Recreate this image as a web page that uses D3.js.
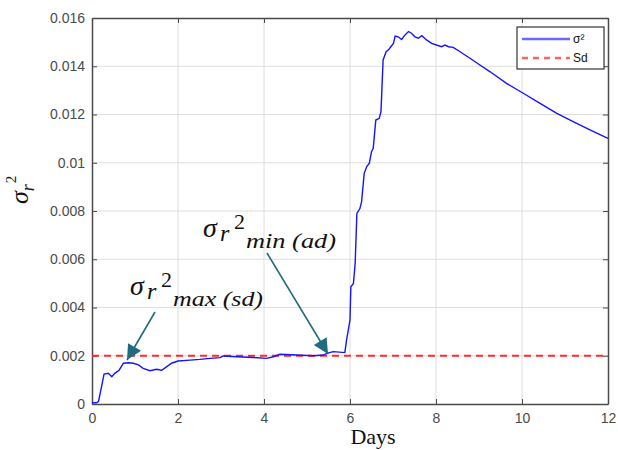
<!DOCTYPE html>
<html>
<head>
<meta charset="utf-8">
<script src="https://cdn.jsdelivr.net/npm/d3@7"></script>
<style>
  html, body { margin: 0; padding: 0; background: #fff; }
  svg { display: block; }
  .tick text { font-family: "Liberation Sans", Arial, sans-serif; }
</style>
</head>
<body>
<svg id="chart" width="618" height="450"></svg>
<script>
// Variance of the residual (sigma_r^2) over time, in days
const days = [0, 0.1, 0.15, 0.22, 0.28, 0.38, 0.46, 0.53, 0.63, 0.73, 0.85, 0.96, 1.08, 1.19, 1.35, 1.5, 1.62, 1.74, 1.85, 2.0,
  2.28, 2.51, 2.74, 2.98, 3.05, 3.37, 3.75, 4.06, 4.22, 4.37, 4.76, 5.15, 5.38, 5.46, 5.61, 5.88,
  5.92, 6.0, 6.02, 6.08, 6.12, 6.16, 6.23, 6.27, 6.33, 6.39, 6.45, 6.5, 6.54, 6.6, 6.68, 6.72, 6.77,
  6.84, 6.89, 6.95, 7.01, 7.05, 7.12, 7.2, 7.28, 7.36, 7.43, 7.51, 7.59, 7.67, 7.78, 7.9, 8.01,
  8.13, 8.21, 8.29, 8.4, 8.56, 8.79, 9.02, 9.26, 9.64, 10.03, 10.42, 10.81, 11.19, 11.58, 12.0];
const sigma2 = [0.00005, 0.00005, 0.0001, 0.0007, 0.00124, 0.00127, 0.00113, 0.00127, 0.0014, 0.00169, 0.00171, 0.00169, 0.00162, 0.00148, 0.00138, 0.00144, 0.0014, 0.00155, 0.00169, 0.00178,
  0.00182, 0.00185, 0.00189, 0.00192, 0.00199, 0.00196, 0.00193, 0.00189, 0.00196, 0.00206, 0.00203, 0.002, 0.00203, 0.0021, 0.00217, 0.00213,
  0.00265, 0.00348, 0.00486, 0.005, 0.00583, 0.0079, 0.0081, 0.00839, 0.00956, 0.00984, 0.00998, 0.01046, 0.0106, 0.01177, 0.01184, 0.01212, 0.01426,
  0.0146, 0.01467, 0.01481, 0.01495, 0.01525, 0.01522, 0.01511, 0.0153, 0.01544, 0.01537, 0.01522, 0.01516, 0.01527, 0.01509, 0.01495, 0.01488,
  0.01481, 0.01488, 0.01481, 0.01478, 0.0146, 0.01433, 0.01405, 0.01377, 0.01329, 0.01288, 0.01246, 0.01205, 0.0117, 0.01136, 0.01101];
const sdLevel = 0.002;
const xTicks = [0, 2, 4, 6, 8, 10, 12];
const yTicks = [0, 0.002, 0.004, 0.006, 0.008, 0.01, 0.012, 0.014, 0.016];
const yTickLabels = ["0", "0.002", "0.004", "0.006", "0.008", "0.01", "0.012", "0.014", "0.016"];
const legendLabels = ["σ²", "Sd"];

const svg = d3.select("#chart");
const L = 92, R = 608, T = 18, B = 404;

const x = d3.scaleLinear().domain([0, 12]).range([L, R]);
const y = d3.scaleLinear().domain([0, 0.016]).range([B, T]);

// grid
const grid = svg.append("g");
grid.selectAll(".gx").data(xTicks.slice(1, -1)).join("line")
  .attr("x1", d => x(d)).attr("x2", d => x(d)).attr("y1", T).attr("y2", B)
  .attr("stroke", "#dedede").attr("stroke-width", 1);
grid.selectAll(".gy").data(yTicks.slice(1, -1)).join("line")
  .attr("y1", d => y(d)).attr("y2", d => y(d)).attr("x1", L).attr("x2", R)
  .attr("stroke", "#dedede").attr("stroke-width", 1);

// axes with inward ticks
const axColor = "#4a4a4a";
const xAxis = svg.append("g").attr("transform", `translate(0,${B})`)
  .call(d3.axisBottom(x).tickValues(xTicks).tickSizeInner(-5).tickSizeOuter(0).tickPadding(9).tickFormat(d3.format("d")));
const yAxis = svg.append("g").attr("transform", `translate(${L},0)`)
  .call(d3.axisLeft(y).tickValues(yTicks).tickSizeInner(-5).tickSizeOuter(0).tickPadding(7)
    .tickFormat((d, i) => yTickLabels[i]));
const xTop = svg.append("g").attr("transform", `translate(0,${T})`)
  .call(d3.axisTop(x).tickValues(xTicks).tickSizeInner(-5).tickSizeOuter(0).tickFormat(""));
const yRight = svg.append("g").attr("transform", `translate(${R},0)`)
  .call(d3.axisRight(y).tickValues(yTicks).tickSizeInner(-5).tickSizeOuter(0).tickFormat(""));
[xAxis, yAxis, xTop, yRight].forEach(g => {
  g.select(".domain").attr("stroke", axColor).attr("stroke-width", 1.5);
  g.selectAll(".tick line").attr("stroke", axColor).attr("stroke-width", 1);
  g.selectAll(".tick text").attr("fill", "#4a4a4a").attr("font-size", 14);
});
xAxis.selectAll(".tick text").attr("dy", "0.71em");

// Sd reference level
svg.append("line")
  .attr("x1", x(0)).attr("x2", x(12)).attr("y1", y(sdLevel)).attr("y2", y(sdLevel))
  .attr("stroke", "#ff2a2a").attr("stroke-width", 2).attr("stroke-dasharray", "7,5");

// sigma^2 curve
const line = d3.line().x((d, i) => x(days[i])).y(d => y(d));
svg.append("path").datum(sigma2)
  .attr("d", line)
  .attr("fill", "none").attr("stroke", "#1414ff").attr("stroke-width", 1.4);

// legend
const lg = svg.append("g");
lg.append("rect").attr("x", 517).attr("y", 27).attr("width", 87).attr("height", 42)
  .attr("fill", "#fff").attr("stroke", "#333").attr("stroke-width", 1.2);
lg.append("line").attr("x1", 522).attr("x2", 570).attr("y1", 39).attr("y2", 39)
  .attr("stroke", "#6a6aff").attr("stroke-width", 2.5);
lg.append("line").attr("x1", 522).attr("x2", 570).attr("y1", 58).attr("y2", 58)
  .attr("stroke", "#ff6262").attr("stroke-width", 2.5).attr("stroke-dasharray", "6,5");
lg.selectAll("text").data(legendLabels).join("text")
  .attr("x", 573).attr("y", (d, i) => i === 0 ? 43 : 62)
  .attr("font-family", "Liberation Sans, Arial, sans-serif").attr("font-size", 12)
  .attr("fill", "#111").text(d => d);

// axis titles
svg.append("text").attr("x", 373).attr("y", 444).attr("text-anchor", "middle")
  .attr("font-family", "Liberation Serif, Times New Roman, serif").attr("font-size", 22)
  .attr("fill", "#111").text("Days");

const ylab = svg.append("text").attr("transform", "translate(28,204) rotate(-90)")
  .attr("font-family", "Liberation Serif, serif").attr("font-style", "italic").attr("fill", "#111");
ylab.append("tspan").attr("font-size", 26).text("σ");
ylab.append("tspan").attr("font-size", 18).attr("dy", 6).text("r");
ylab.append("tspan").attr("font-size", 15).attr("dy", -18).attr("dx", 1).attr("font-style", "normal").text("2");

// annotations
const arrowColor = "#216a80";
const defs = svg.append("defs");
defs.append("marker").attr("id", "head").attr("viewBox", "0 0 10 10")
  .attr("refX", 10).attr("refY", 5).attr("markerWidth", 18).attr("markerHeight", 15)
  .attr("markerUnits", "userSpaceOnUse").attr("orient", "auto")
  .append("path").attr("d", "M0,0 L10,5 L0,10 Z").attr("fill", arrowColor);

function annotation(sx, sy, sub) {
  const g = svg.append("g").attr("font-family", "Liberation Serif, serif").attr("fill", "#111");
  g.append("text").attr("x", sx).attr("y", sy).attr("font-size", 28).attr("font-style", "italic").text("σ");
  g.append("text").attr("x", sx + 17).attr("y", sy + 4).attr("font-size", 24).attr("font-style", "italic").text("r");
  g.append("text").attr("x", sx + 31).attr("y", sy - 8).attr("font-size", 22).text("2");
  g.append("text").attr("x", sx + 43).attr("y", sy + 11).attr("font-size", 22).attr("font-style", "italic")
    .attr("textLength", 90).attr("lengthAdjust", "spacingAndGlyphs").text(sub);
}
annotation(130, 295, "max (sd)");
annotation(203, 237, "min (ad)");

svg.append("line").attr("x1", 155).attr("y1", 312).attr("x2", 127).attr("y2", 360)
  .attr("stroke", arrowColor).attr("stroke-width", 1.6).attr("marker-end", "url(#head)");
svg.append("line").attr("x1", 267).attr("y1", 253).attr("x2", 328).attr("y2", 354)
  .attr("stroke", arrowColor).attr("stroke-width", 1.6).attr("marker-end", "url(#head)");
</script>
</body>
</html>
